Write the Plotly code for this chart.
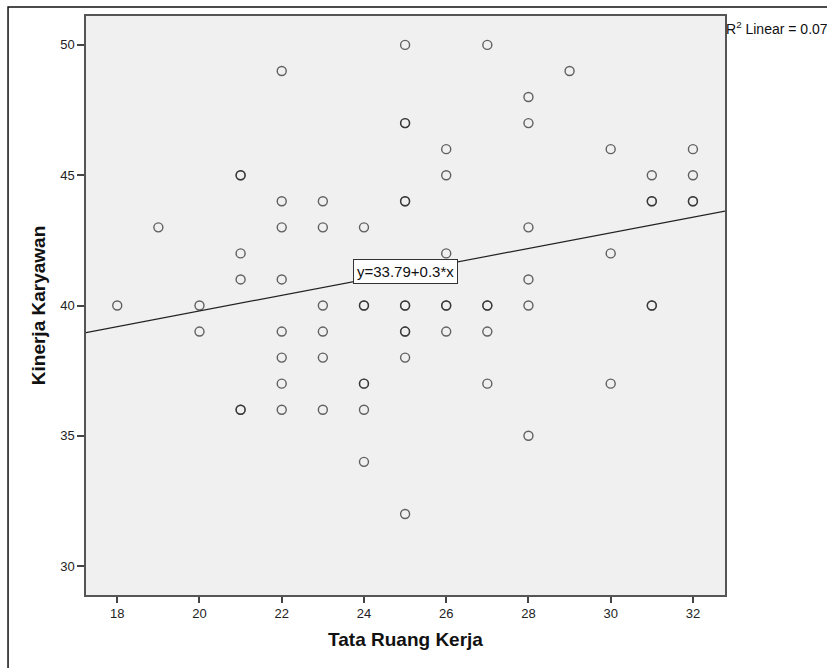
import plotly.graph_objects as go

# ---- data (duplicates drawn as repeated points) ----
tata_ruang_kerja = (
    [18]
    + [19]
    + [20] * 2
    + [21] * 6
    + [22] * 8
    + [23] * 6
    + [24] * 7
    + [25] * 11
    + [26] * 6
    + [27] * 5
    + [28] * 6
    + [29]
    + [30] * 3
    + [31] * 5
    + [32] * 4
)
kinerja_karyawan = (
    [40]
    + [43]
    + [40, 39]
    + [45, 45, 42, 41, 36, 36]
    + [49, 44, 43, 41, 39, 38, 37, 36]
    + [44, 43, 40, 39, 38, 36]
    + [43, 40, 40, 37, 37, 36, 34]
    + [50, 47, 47, 44, 44, 40, 40, 39, 39, 38, 32]
    + [46, 45, 42, 40, 40, 39]
    + [50, 40, 40, 39, 37]
    + [48, 47, 43, 41, 40, 35]
    + [49]
    + [46, 42, 37]
    + [45, 44, 44, 40, 40]
    + [46, 45, 44, 44]
)

fit_intercept = 33.79
fit_slope = 0.3
fit_label = "y=33.79+0.3*x"
r2_label = "R<sup>2</sup> Linear = 0.077"
x_ticks = [18, 20, 22, 24, 26, 28, 30, 32]
y_ticks = [30, 35, 40, 45, 50]
x_title = "Tata Ruang Kerja"
y_title = "Kinerja Karyawan"

x_range = [17.24, 32.78]
y_range = [28.89, 51.11]

fit_x = [x_range[0], x_range[1]]
fit_y = [fit_intercept + fit_slope * v for v in fit_x]
label_x = 25
label_y = fit_intercept + fit_slope * label_x

FONT = "Liberation Sans, Arial, sans-serif"

fig = go.Figure()
fig.add_trace(go.Scatter(
    x=fit_x, y=fit_y, mode="lines",
    line=dict(color="#222222", width=1.2),
    hoverinfo="skip", showlegend=False,
))
fig.add_trace(go.Scatter(
    x=tata_ruang_kerja, y=kinerja_karyawan, mode="markers",
    marker=dict(symbol="circle-open", size=9,
                color="rgba(40,40,40,0.72)",
                line=dict(width=1.4, color="rgba(40,40,40,0.72)")),
    showlegend=False,
))

fig.add_annotation(
    x=label_x, y=label_y, xref="x", yref="y",
    text=fit_label, showarrow=False,
    font=dict(family=FONT, size=15, color="#111111"),
    bgcolor="white", bordercolor="#333333", borderwidth=1, borderpad=3,
)
fig.add_annotation(
    x=1, y=0.998, xref="paper", yref="paper",
    xanchor="left", yanchor="top", text=r2_label, showarrow=False,
    font=dict(family=FONT, size=14, color="#111111"), xshift=-1,
)

# outer border
fig.add_shape(type="rect", xref="paper", yref="paper",
              x0=-0.122, x1=1.2, y0=-0.2, y1=1.0155,
              line=dict(color="#111111", width=1.5), layer="above")

fig.update_layout(
    width=827, height=668,
    margin=dict(l=86, r=102, t=16, b=73),
    paper_bgcolor="white", plot_bgcolor="#F0F0F0",
    font=dict(family=FONT, size=12, color="#111111"),
    showlegend=False,
)
fig.update_xaxes(
    range=x_range, tickvals=x_ticks, ticktext=[str(v) for v in x_ticks],
    showgrid=False, zeroline=False,
    showline=True, mirror=True, linecolor="#555555", linewidth=1.5,
    ticks="outside", ticklen=6, tickwidth=1.5, tickcolor="#444444",
    tickfont=dict(family=FONT, size=13, color="#222222"),
    title=dict(text="<b>" + x_title + "</b>", standoff=12,
               font=dict(family=FONT, size=19, color="#111111")),
)
fig.update_yaxes(
    range=y_range, tickvals=y_ticks, ticktext=[str(v) for v in y_ticks],
    showgrid=False, zeroline=False,
    showline=True, mirror=True, linecolor="#555555", linewidth=1.5,
    ticks="outside", ticklen=7, tickwidth=1.5, tickcolor="#444444",
    tickfont=dict(family=FONT, size=13, color="#222222"),
    title=dict(text="<b>" + y_title + "</b>", standoff=10,
               font=dict(family=FONT, size=19, color="#111111")),
)

fig.write_html("out.html")
